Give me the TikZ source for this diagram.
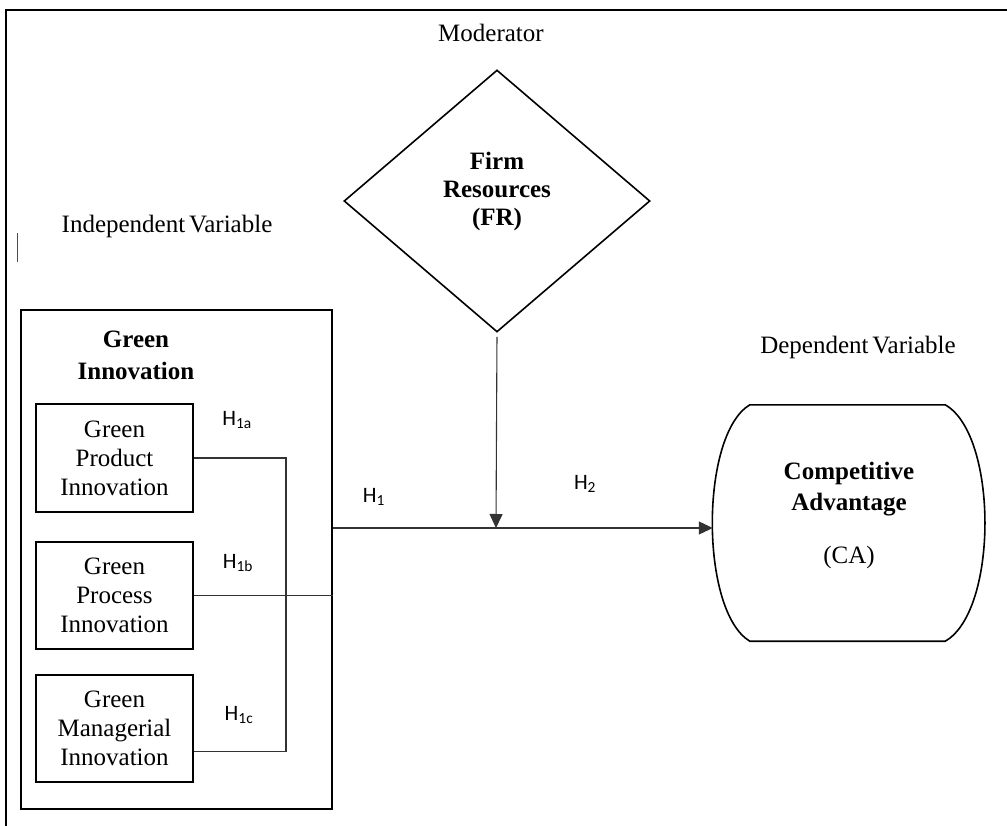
\documentclass[tikz,border=0pt]{standalone}
\usepackage{fontspec}
\setmainfont{Liberation Serif}
\newfontfamily\hfont{Carlito}
\usetikzlibrary{shapes.geometric,arrows.meta,calc}
\begin{document}
\begin{tikzpicture}[x=1pt,y=-1pt,
  font=\fontsize{25}{29}\selectfont,
  frame/.style={line width=1.8pt},
  subbox/.style={draw,line width=1.8pt,minimum width=157pt,align=center,inner sep=0pt},
  thinline/.style={draw=black!80,line width=1.1pt},
  hl/.style={font=\hfont\fontsize{22}{26}\selectfont},
  lbl/.style={anchor=base},
  btitle/.style={anchor=base,align=center,font=\bfseries\fontsize{25}{31}\selectfont},
  arr/.style={-{Triangle[length=14pt,width=13pt]}}]
\useasboundingbox (0,0) rectangle (1007,826);

% outer frame (cut off by page)
\draw[line width=2pt] (6,826) -- (6,10) -- (1007,10);
% stray cursor mark
\draw[line width=1pt,black!70] (17,233) -- (17,262);

% labels
\node[lbl] (modl) at (491,42) {Moderator};
\node[lbl] (indl) at (167,233) {Independent\kern-0.1em{} Variable};
\node[lbl] (depl) at (858,354) {Dependent\kern-0.1em{} Variable};

% Green innovation box
\node[draw,frame,minimum width=311pt,minimum height=499pt,inner sep=0pt] (gi) at (176.5,559.5) {};
\node[btitle,font=\bfseries\fontsize{25}{32}\selectfont] (git) at (136,379) {Green\\Innovation};
\node[subbox,minimum height=108pt] (b1) at (114.5,458) {Green\\Product\\Innovation};
\node[subbox,minimum height=107pt] (b2) at (114.5,595.5) {Green\\Process\\Innovation};
\node[subbox,minimum height=107pt] (b3) at (114.5,728.5) {Green\\Managerial\\Innovation};

% moderator diamond
\node[diamond,draw,line width=1.6pt,minimum width=306pt,minimum height=262pt,aspect=1.17,inner sep=0pt] (fr) at (497,201) {};
\node[btitle,font=\bfseries\fontsize{25}{28}\selectfont] (frt) at (497,226) {Firm\\Resources\\(FR)};

% competitive advantage
\node[minimum width=272pt,minimum height=236pt,inner sep=0pt] (ca) at (849,523) {};
\draw[line width=1.6pt]
  ($(ca.north west)+(37,0)$) -- ($(ca.north east)+(-40,0)$)
  .. controls ($(ca.north east)+(13,30)$) and ($(ca.south east)+(13,-30)$) .. ($(ca.south east)+(-40,0)$)
  -- ($(ca.south west)+(37,0)$)
  .. controls ($(ca.south west)+(-13,-30)$) and ($(ca.north west)+(-13,30)$) .. cycle;
\node[btitle] (cat) at (849,510) {Competitive\\Advantage};
\node[lbl] (cab) at (849,563) {(CA)};

% connectors
\coordinate (bus) at (286,0);
\coordinate (b3c) at ($(b3.east)+(0,23)$);
\coordinate (j) at (496,528);
\draw[thinline] (b1.east) -- (b1.east -| bus) -- (bus |- b3c) -- (b3c);
\draw[thinline] (b2.east) -- (gi.east |- b2.east);
\draw[thinline,arr] (gi.east |- j) -- (ca.west |- j);
\draw[thinline,arr,shorten <=4pt] (fr.south) -- (j);

% hypothesis labels
\node[hl] (h1a) at (237,420) {H\textsubscript{1a}};
\node[hl] (h1b) at (238,563) {H\textsubscript{1b}};
\node[hl] (h1c) at (239,715) {H\textsubscript{1c}};
\node[hl] (h1) at (374,497) {H\textsubscript{1}};
\node[hl] (h2) at (585,484) {H\textsubscript{2}};
\end{tikzpicture}
\end{document}
